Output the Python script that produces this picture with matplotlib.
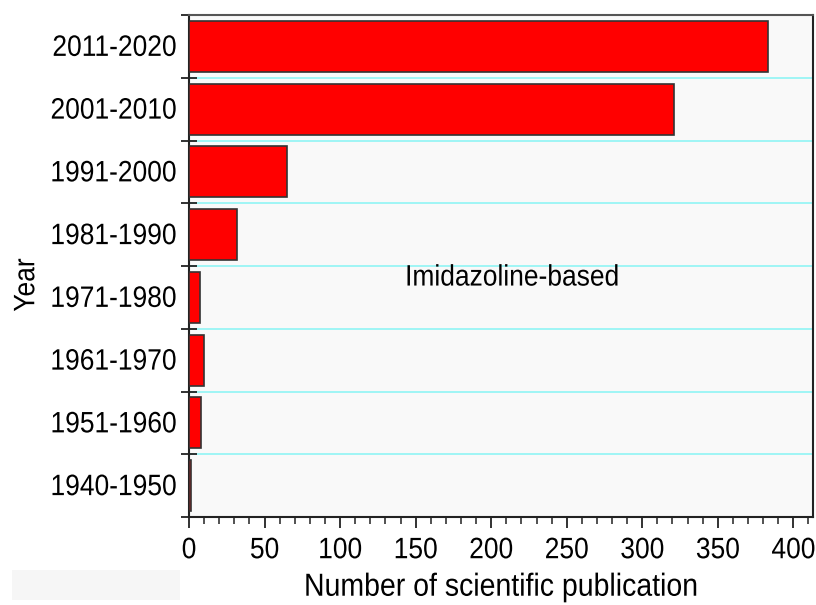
import matplotlib
matplotlib.use("Agg")
import matplotlib.pyplot as plt
from matplotlib.ticker import MultipleLocator
from matplotlib.patches import Rectangle
from matplotlib.patheffects import AbstractPathEffect
from matplotlib.transforms import Affine2D

plt.rcParams['font.family'] = ['Liberation Sans', 'DejaVu Sans']

periods = ["1940-1950", "1951-1960", "1961-1970", "1971-1980",
           "1981-1990", "1991-2000", "2001-2010", "2011-2020"]
publications = [1, 8, 10, 7, 32, 65, 321, 383]
xlim_max = 413


class Stretch(AbstractPathEffect):
    """Stretch glyphs vertically (the reference text is slightly tall)."""
    def __init__(self, sy=1.1):
        super().__init__()
        self.sy = sy

    def draw_path(self, renderer, gc, tpath, affine, rgbFace=None):
        renderer.draw_path(gc, tpath, Affine2D().scale(1, self.sy) + affine,
                           rgbFace)


SY = 1.12
FS = 19

fig = plt.figure(figsize=(8.16, 6.05), dpi=100)
ax = fig.add_axes([189/816, 1-517/605, (813-189)/816, (517-15)/605])
ax.set_facecolor('#f9f9f9')

# faint gray patch at bottom left
fig.patches.append(Rectangle((12/816, 1-600/605), 168/816, 30/605,
                             transform=fig.transFigure, facecolor='#f6f6f6',
                             edgecolor='none', zorder=0))

pos = list(range(len(periods)))
ax.barh(pos, publications, height=0.81, color='#ff0000',
        edgecolor='#333333', linewidth=1.2, zorder=3)

ax.set_ylim(-0.5, len(periods) - 0.5)
ax.set_xlim(0, xlim_max)

# gridlines at category boundaries
for b in [i + 0.5 for i in range(len(periods) - 1)]:
    ax.axhline(b, color='#9ff5f5', linewidth=1.4, zorder=1)

ax.set_yticks(pos)
ax.set_yticklabels(periods, fontsize=FS)
ax.tick_params(axis='y', which='major', length=0, pad=9)
ax.set_yticks([i + 0.5 for i in range(-1, len(periods))], minor=True)
ax.tick_params(axis='y', which='minor', length=12, width=1.3,
               direction='inout', color='#222222')

ax.xaxis.set_major_locator(MultipleLocator(50))
ax.xaxis.set_minor_locator(MultipleLocator(10))
ax.tick_params(axis='x', which='major', length=8, width=1.3,
               direction='out', labelsize=FS, pad=8, color='#222222')
ax.tick_params(axis='x', which='minor', length=5, width=1.1,
               direction='out', color='#222222')

for side in ['left', 'bottom', 'right']:
    ax.spines[side].set_linewidth(1.5)
    ax.spines[side].set_color('#222222')
ax.spines['top'].set_linewidth(1.5)
ax.spines['top'].set_color('#555555')

ax.set_xlabel("Number of scientific publication", fontsize=20.5, labelpad=9)
ax.set_ylabel("Year", fontsize=FS)
ax.yaxis.set_label_coords(-0.24, 0.462)

t = ax.text(143, 3.30, "Imidazoline-based", fontsize=FS, ha='left',
            va='center', zorder=4)

texts = [t, ax.xaxis.label, ax.yaxis.label]
texts += ax.get_xticklabels() + ax.get_yticklabels()
for tx in texts:
    tx.set_path_effects([Stretch(SY)])

fig.savefig("out.png", dpi=100)
